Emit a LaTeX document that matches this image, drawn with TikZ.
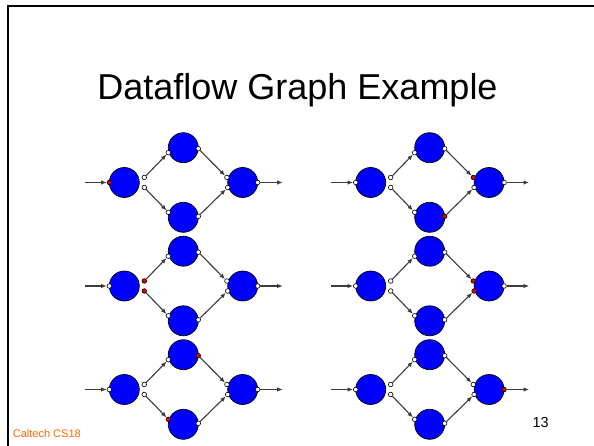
\documentclass[tikz,border=0pt]{standalone}
\usepackage{fontspec}
\setmainfont{Liberation Sans}
\usetikzlibrary{arrows.meta}
\definecolor{nodeblue}{RGB}{0,0,255}
\definecolor{portred}{RGB}{225,0,0}
\definecolor{footorange}{RGB}{255,102,0}
\definecolor{edgegray}{RGB}{60,60,60}
\tikzset{
  blob/.style={circle, draw=black, line width=0.7pt, fill=nodeblue, minimum size=30pt, inner sep=0pt},
  port/.style={circle, draw=black, line width=0.6pt, fill=white, minimum size=4.6pt, inner sep=0pt},
  hot/.style={fill=portred},
  edge/.style={draw=edgegray, line width=1.1pt, -{Latex[length=5.5pt,width=4.5pt]}},
}
\newcommand\dfg[3]{%
\begin{scope}[shift={(#2,#3)}]
  \node[blob] (#1-L) at (0,0) {};
  \node[blob] (#1-T) at (59,-34.8) {};
  \node[blob] (#1-B) at (59,34.8) {};
  \node[blob] (#1-R) at (118.4,0) {};
  \node[port,#1-Lin/.try]  (#1-Lin)  at (-15,0) {};
  \node[port,#1-Lo1/.try]  (#1-Lo1)  at (20,-5) {};
  \node[port,#1-Lo2/.try]  (#1-Lo2)  at (20,5) {};
  \node[port,#1-Tin/.try]  (#1-Tin)  at (44,-29.8) {};
  \node[port,#1-Tout/.try] (#1-Tout) at (74,-33.8) {};
  \node[port,#1-Bin/.try]  (#1-Bin)  at (44,29.8) {};
  \node[port,#1-Bout/.try] (#1-Bout) at (74,33.8) {};
  \node[port,#1-Ri1/.try]  (#1-Ri1)  at (102.6,-5) {};
  \node[port,#1-Ri2/.try]  (#1-Ri2)  at (103.4,5) {};
  \node[port,#1-Rout/.try] (#1-Rout) at (133.4,0) {};
  \coordinate (#1-in) at (-39.3,0);
  \coordinate (#1-out) at (158.4,0);
  \draw[edge] (#1-in) -- (#1-Lin);
  \draw[edge] (#1-Lo1) -- (#1-Tin);
  \draw[edge] (#1-Lo2) -- (#1-Bin);
  \draw[edge] (#1-Tout) -- (#1-Ri1);
  \draw[edge] (#1-Bout) -- (#1-Ri2);
  \draw[edge] (#1-Rout) -- (#1-out);
\end{scope}}
\tikzset{
  ga-Lin/.style={hot},
  gb-Ri1/.style={hot}, gb-Bout/.style={hot},
  gc-Lo1/.style={hot}, gc-Lo2/.style={hot},
  gd-Ri1/.style={hot}, gd-Ri2/.style={hot},
  ge-Tout/.style={hot}, ge-Bin/.style={hot},
  gf-Rout/.style={hot},
}
\begin{document}
\begin{tikzpicture}[x=1pt,y=-1pt]
  \useasboundingbox (0,0) rectangle (594,446);
  \fill[white] (0,0) rectangle (594,446);
  \coordinate (fbl) at (8,446);
  \coordinate (ftl) at (8,6);
  \coordinate (ftr) at (594,6);
  \draw[line width=2pt] (fbl) -- (ftl) -- (ftr);
  \node[anchor=base, inner sep=0pt, font=\fontsize{36}{40}\selectfont] (title) at (297.5,100) {Dataflow Graph Example};
  \node[anchor=base west, inner sep=0pt, text=footorange, font=\fontsize{11}{13}\selectfont] (foot) at (12.7,437.5) {Caltech CS18};
  \node[anchor=base west, inner sep=0pt, font=\fontsize{14.5}{16}\selectfont] (pnum) at (532.3,427.3) {13};
  \dfg{ga}{124.3}{182.5}
  \dfg{gb}{370.7}{182.5}
  \dfg{gc}{124.3}{286}
  \dfg{gd}{370.7}{286}
  \dfg{ge}{124.3}{389.5}
  \dfg{gf}{370.7}{389.5}
\end{tikzpicture}
\end{document}
